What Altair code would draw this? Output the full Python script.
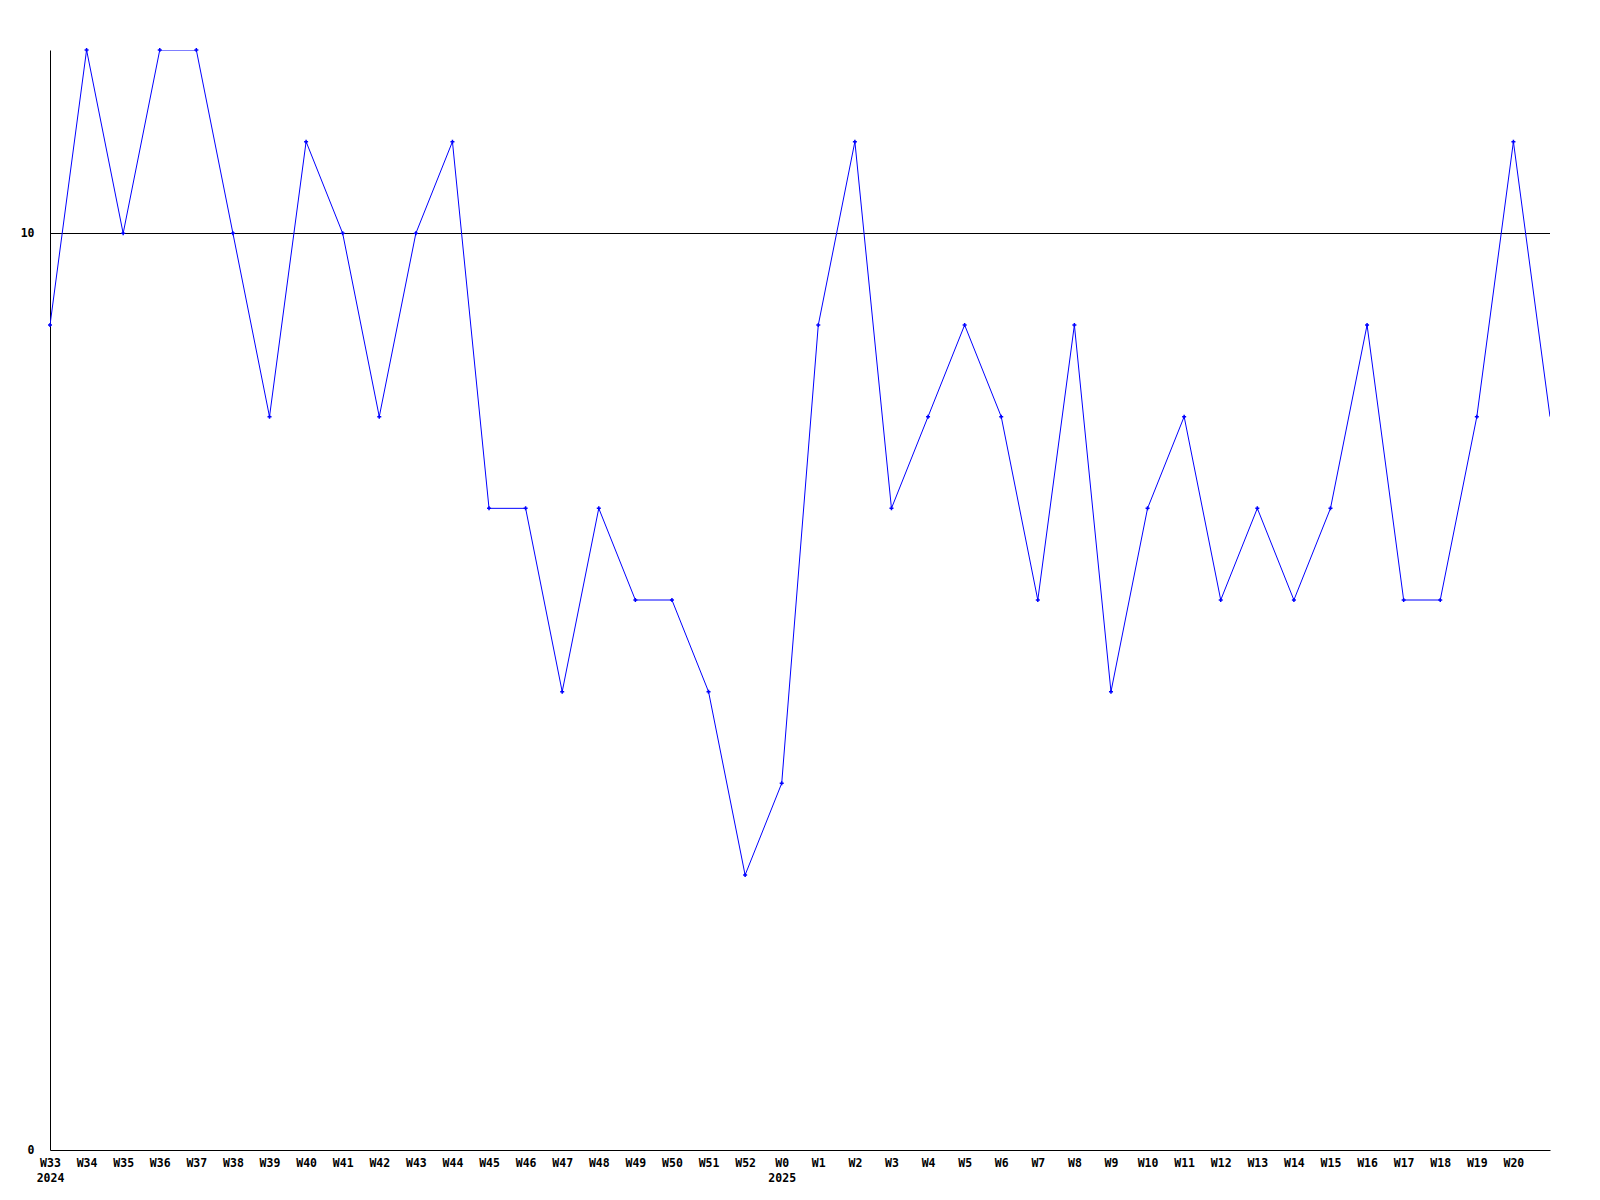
import altair as alt
import pandas as pd

weeks = ["W33", "W34", "W35", "W36", "W37", "W38", "W39", "W40", "W41", "W42",
         "W43", "W44", "W45", "W46", "W47", "W48", "W49", "W50", "W51", "W52",
         "W0", "W1", "W2", "W3", "W4", "W5", "W6", "W7", "W8", "W9",
         "W10", "W11", "W12", "W13", "W14", "W15", "W16", "W17", "W18", "W19",
         "W20", "W21"]
years = {0: "2024", 20: "2025"}
values = [9, 12, 10, 12, 12, 10, 8, 11, 10, 8,
          10, 11, 7, 7, 5, 7, 6, 6, 5, 3,
          4, 9, 11, 7, 8, 9, 8, 6, 9, 5,
          7, 8, 6, 7, 6, 7, 9, 6, 6, 8,
          11, 8]
reference_value = 10
labelled_count = 41  # last point (W21) has no label / marker

df = pd.DataFrame({"i": list(range(len(weeks))), "week": weeks, "value": values})

label_items = []
for k, w in enumerate(weeks):
    if k in years:
        label_items.append("['%s','%s']" % (w, years[k]))
    else:
        label_items.append("'%s'" % w)
label_expr = "[" + ",".join(label_items) + "][datum.value]"

font = "DejaVu Sans Mono"

x = alt.X("i:Q",
          scale=alt.Scale(domain=[0, len(weeks) - 1], nice=False, zero=False),
          axis=alt.Axis(values=list(range(labelled_count)), labelExpr=label_expr,
                        title=None, grid=False, ticks=False, domainColor="black",
                        labelFont=font, labelFontWeight="bold", labelFontSize=11.5,
                        labelColor="black", labelPadding=7, labelBaseline="top",
                        labelLineHeight=15, labelAngle=0, labelOverlap=False,
                        labelFlush=False))
y = alt.Y("value:Q",
          scale=alt.Scale(domain=[0, 12], nice=False),
          axis=alt.Axis(values=[0, 10], format="d", title=None, grid=False,
                        ticks=False, domainColor="black", labelFont=font,
                        labelFontWeight="bold", labelFontSize=11.5,
                        labelColor="black", labelPadding=16))

base = alt.Chart(df)

rule = base.mark_rule(color="black", strokeWidth=1, yOffset=0.17).encode(
    y=alt.datum(reference_value))

line = base.mark_line(color="#0000ff", strokeWidth=1, clip=True).encode(x=x, y=y)

points = base.transform_filter(alt.datum.i < labelled_count).mark_point(
    shape="M-1,0L1,0M0,-1L0,1", filled=False, color="#0000ff",
    strokeWidth=1.5, size=16, opacity=1).encode(x=x, y=y)

chart = alt.layer(rule, line, points).properties(
    width=1500, height=1100,
    autosize=alt.AutoSizeParams(type="none"),
    padding={"left": 42, "top": 42, "right": 30, "bottom": 34},
).configure(background="white").configure_view(stroke=None)

chart.save("out.html", embed_options={"renderer": "svg", "actions": False})
